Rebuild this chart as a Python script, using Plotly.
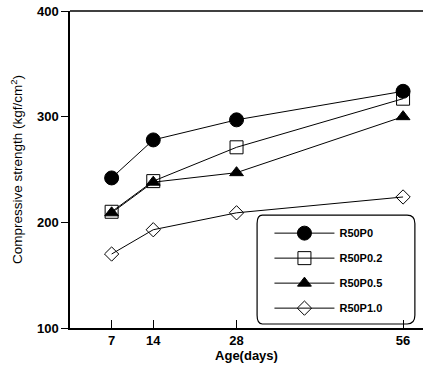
import plotly.graph_objects as go

ages = [7, 14, 28, 56]
series_names = ["R50P0", "R50P0.2", "R50P0.5", "R50P1.0"]
r50p0 = [242, 278, 297, 324]
r50p02 = [210, 239, 271, 317]
r50p05 = [209, 238, 247, 300]
r50p10 = [170, 193, 209, 224]
x_ticks = [7, 14, 28, 56]
y_ticks = [100, 200, 300, 400]

values = [r50p0, r50p02, r50p05, r50p10]
symbols = ["circle", "square-open", "triangle-up", "diamond-open"]
sizes = [14, 13, 12, 11]

FONT = "Liberation Sans, Arial, sans-serif"

fig = go.Figure()
for i, (name, vals) in enumerate(zip(series_names, values)):
    fig.add_trace(go.Scatter(
        x=ages, y=vals, name=name, mode="lines+markers",
        legendgroup=name,
        line=dict(color="black", width=1),
        marker=dict(symbol=symbols[i], size=sizes[i], color="black",
                    line=dict(color="black", width=1)),
    ))

fig.update_layout(
    width=423, height=374,
    margin=dict(l=70, r=0, t=11, b=46),
    paper_bgcolor="white", plot_bgcolor="white",
    font=dict(family=FONT, color="black"),
    showlegend=True,
    legend=dict(
        x=0.565, y=0.345, xanchor="left", yanchor="top",
        bgcolor="rgba(0,0,0,0)", borderwidth=0,
        font=dict(size=11, family=FONT, weight="bold"),
        tracegroupgap=6, itemwidth=60,
    ),
    shapes=[
        dict(type="line", xref="paper", yref="paper", x0=0, x1=1, y0=1, y1=1,
             line=dict(color="black", width=1.5)),
        dict(type="path", xref="paper", yref="paper",
             path="M 0.545 0.0126 L 0.955 0.0126 Q 0.977 0.0126 0.977 0.04 L 0.977 0.33 Q 0.977 0.356 0.955 0.356 L 0.545 0.356 Q 0.53 0.356 0.53 0.33 L 0.53 0.04 Q 0.53 0.0126 0.545 0.0126 Z",
             line=dict(color="black", width=1.2), fillcolor="white", layer="below"),
    ],
)

fig.update_xaxes(
    range=[0, 59.35], tickvals=x_ticks, ticktext=[str(t) for t in x_ticks],
    ticks="inside", ticklen=8, tickcolor="black", tickwidth=1,
    showline=True, linecolor="black", linewidth=1.5, showgrid=False, zeroline=False,
    tickfont=dict(size=13, family=FONT, weight="bold"),
    title=dict(text="Age(days)", font=dict(size=13, family=FONT, weight="bold"), standoff=4),
)
fig.update_yaxes(
    range=[100, 400], tickvals=y_ticks,
    ticks="outside", ticklen=7, tickcolor="black", tickwidth=1,
    showline=True, linecolor="black", linewidth=1.5, showgrid=False, zeroline=False,
    tickfont=dict(size=13, family=FONT, weight="bold"),
    title=dict(text="Compressive strength (kgf/cm<sup>2</sup>)",
               font=dict(size=13.5, family=FONT), standoff=11),
)

fig.write_html("out.html")
